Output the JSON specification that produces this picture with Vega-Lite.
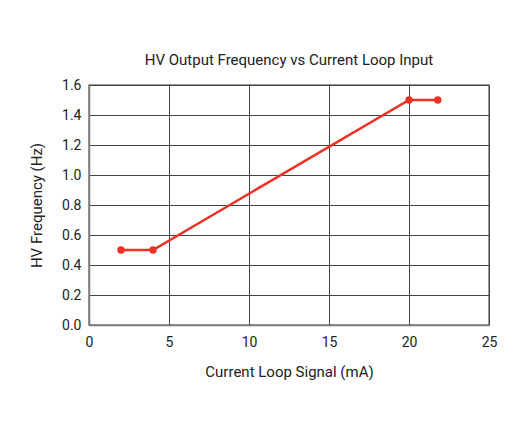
{
  "$schema": "https://vega.github.io/schema/vega-lite/v6.json",
  "autosize": "none",
  "width": 400,
  "height": 240,
  "padding": {"left": 89, "top": 85, "right": 28, "bottom": 98},
  "background": "white",
  "title": {
    "text": "HV Output Frequency vs Current Loop Input",
    "font": "Roboto",
    "fontSize": 15,
    "fontWeight": "normal",
    "color": "#222222",
    "anchor": "middle",
    "baseline": "alphabetic",
    "offset": -2
  },
  "data": {
    "values": [
      {"signal": 2, "freq": 0.5},
      {"signal": 4, "freq": 0.5},
      {"signal": 20, "freq": 1.5},
      {"signal": 21.8, "freq": 1.5}
    ]
  },
  "mark": {"type": "line", "color": "#ee3124", "strokeWidth": 2.5, "point": {"filled": true, "size": 55, "color": "#ee3124", "opacity": 1}},
  "encoding": {
    "x": {
      "field": "signal", "type": "quantitative",
      "scale": {"domain": [0, 25], "nice": false},
      "axis": {"title": "Current Loop Signal (mA)", "values": [0, 5, 10, 15, 20, 25], "labelFlush": false, "titlePadding": 15, "labelPadding": 10}
    },
    "y": {
      "field": "freq", "type": "quantitative",
      "scale": {"domain": [0, 1.6], "nice": false},
      "axis": {"title": "HV Frequency (Hz)", "values": [0, 0.2, 0.4, 0.6, 0.8, 1.0, 1.2, 1.4, 1.6], "format": ".1f", "labelFlush": false, "labelPadding": 8, "titlePadding": 17}
    }
  },
  "config": {
    "font": "Roboto",
    "view": {"stroke": "#7a7a7a", "strokeWidth": 1.5},
    "axis": {
      "grid": true,
      "gridColor": "#444444",
      "gridOpacity": 1,
      "gridWidth": 1,
      "domainColor": "#7a7a7a",
      "domainWidth": 1.5,
      "ticks": false,
      "labelFont": "Roboto",
      "labelFontSize": 14,
      "labelColor": "#222222",
      "titleFont": "Roboto",
      "titleFontSize": 15,
      "titleFontWeight": "normal",
      "titleColor": "#222222"
    }
  }
}
